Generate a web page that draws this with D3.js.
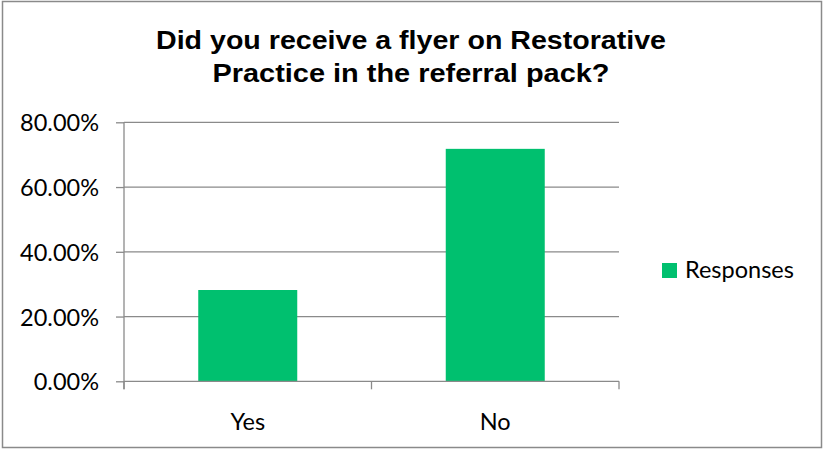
<!DOCTYPE html>
<html>
<head>
<meta charset="utf-8">
<script src="https://cdn.jsdelivr.net/npm/d3@7"></script>
<style>
html,body{margin:0;padding:0;background:#fff;}
svg{display:block;}
</style>
</head>
<body>
<svg id="chart" width="824" height="449"></svg>
<script>
const categories = ["Yes", "No"];
const responses = [0.282, 0.718];
const yTicks = [0, 0.2, 0.4, 0.6, 0.8];
const seriesName = "Responses";
const titleLines = ["Did you receive a flyer on Restorative", "Practice in the referral pack?"];
const titleWidths = [510, 397];

const svg = d3.select("#chart");
const W = 824, H = 449;
const labelFont = "Lato, 'Open Sans', sans-serif";
const gridColor = "#8a8a8a";
const barColor = "#00c06f";

svg.append("rect").attr("x", 2.5).attr("y", 1.5).attr("width", W - 5).attr("height", H - 3)
  .attr("fill", "#fff").attr("stroke", "#8a8a8a").attr("stroke-width", 1.5);

const plot = {left: 124, right: 619, top: 122.3, bottom: 381.3};
const x = d3.scaleBand().domain(categories).range([plot.left, plot.right])
  .paddingInner(0.6).paddingOuter(0.3);
const y = d3.scaleLinear().domain([0, 0.8]).range([plot.bottom, plot.top]);

// gridlines
svg.append("g").selectAll("line").data(yTicks.filter(d => d > 0)).join("line")
  .attr("x1", plot.left).attr("x2", plot.right)
  .attr("y1", d => y(d)).attr("y2", d => y(d))
  .attr("stroke", gridColor).attr("stroke-width", 1.3);

// bars
svg.append("g").selectAll("rect").data(categories).join("rect")
  .attr("x", d => x(d)).attr("width", x.bandwidth())
  .attr("y", (d, i) => y(responses[i]))
  .attr("height", (d, i) => y(0) - y(responses[i]))
  .attr("fill", barColor);

// y axis
const yAxis = d3.axisLeft(y).tickValues(yTicks).tickFormat(d3.format(".2%")).tickSize(8).tickPadding(17);
const gy = svg.append("g").attr("transform", `translate(${plot.left},0)`).call(yAxis);
gy.select(".domain").remove();
gy.append("line").attr("x1", 0).attr("x2", 0).attr("y1", plot.top).attr("y2", plot.bottom + 8)
  .attr("stroke", gridColor).attr("stroke-width", 1.3);
gy.selectAll(".tick line").attr("stroke", gridColor).attr("stroke-width", 1.3);
gy.selectAll(".tick text").attr("fill", "#000").style("font-family", labelFont).style("font-size", "23.5px")
  .attr("dy", "0.36em");

// x axis
const xAxis = d3.axisBottom(x).tickSize(0).tickPadding(32);
const gx = svg.append("g").attr("transform", `translate(0,${plot.bottom})`).call(xAxis);
gx.select(".domain").remove();
gx.append("line").attr("x1", plot.left).attr("x2", plot.right).attr("y1", 0).attr("y2", 0)
  .attr("stroke", gridColor).attr("stroke-width", 1.3);
const bounds = [plot.left, plot.left + (plot.right - plot.left) / 2, plot.right];
gx.selectAll(".bnd").data(bounds).join("line").attr("class", "bnd")
  .attr("x1", d => d).attr("x2", d => d).attr("y1", 0).attr("y2", 8)
  .attr("stroke", gridColor).attr("stroke-width", 1.3);
gx.selectAll(".tick text").attr("fill", "#000").style("font-family", labelFont).style("font-size", "23.5px");

// title
svg.append("g").selectAll("text").data(titleLines).join("text")
  .attr("x", 411).attr("y", (d, i) => 48.5 + i * 33)
  .attr("text-anchor", "middle")
  .attr("textLength", (d, i) => titleWidths[i]).attr("lengthAdjust", "spacingAndGlyphs")
  .style("font-family", "'Liberation Sans', Arial, sans-serif").style("font-weight", "bold").style("font-size", "26px")
  .text(d => d);

// legend
const lg = svg.append("g");
lg.append("rect").attr("x", 662).attr("y", 263).attr("width", 15).attr("height", 15).attr("fill", barColor);
lg.append("text").attr("x", 685).attr("y", 278).text(seriesName)
  .style("font-family", labelFont).style("font-size", "23.5px").attr("fill", "#000");
</script>
</body>
</html>
